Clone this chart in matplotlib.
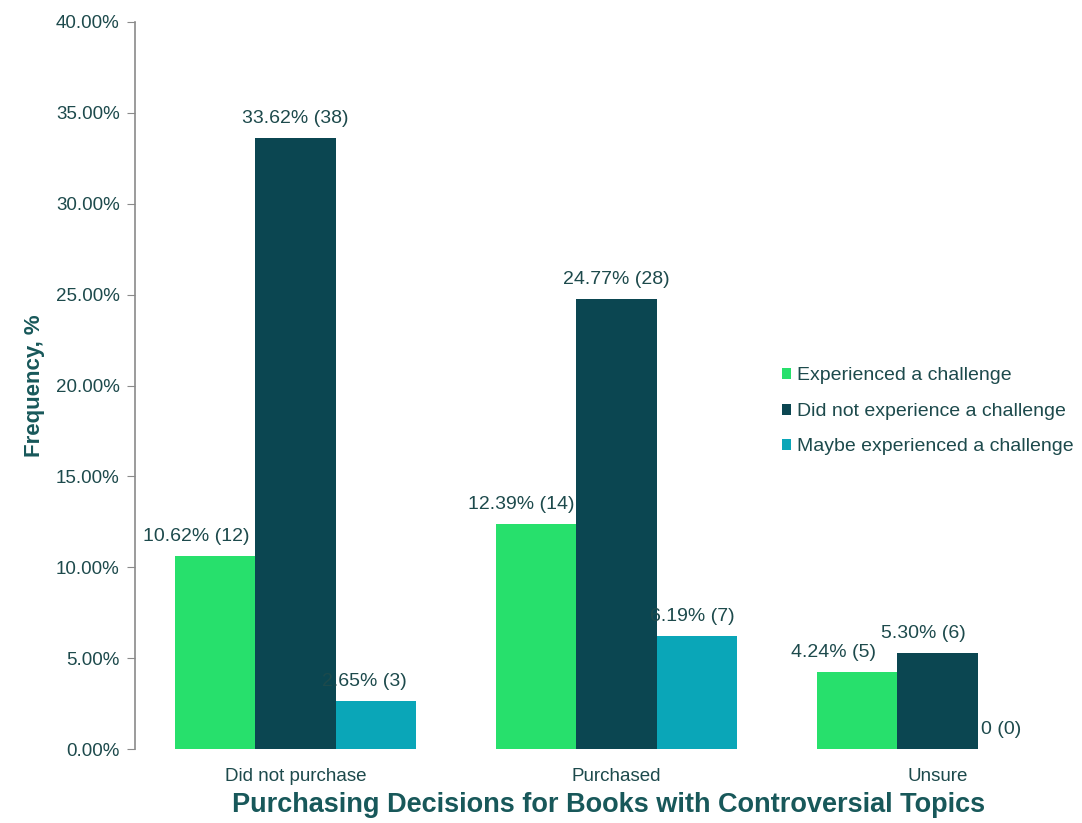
import numpy as np
import matplotlib.pyplot as plt
from matplotlib.ticker import FuncFormatter

plt.rcParams['font.family'] = ['Liberation Sans', 'DejaVu Sans']

decisions = ['Did not purchase', 'Purchased', 'Unsure']
series = ['Experienced a challenge', 'Did not experience a challenge',
          'Maybe experienced a challenge']
pct = [[10.62, 12.39, 4.24],
       [33.62, 24.77, 5.30],
       [2.65, 6.19, 0.0]]
counts = [[12, 14, 5],
          [38, 28, 6],
          [3, 7, 0]]
colors = ['#27e06c', '#0b4651', '#0aa6b8']
text_col = '#1d4a4c'

# small horizontal nudges (points) for the value labels
label_dx = [[-14, -11, -17],
            [0, 0, -10],
            [-8, -3, -12]]

fig = plt.figure(figsize=(10.82, 8.23), dpi=100)
ax = fig.add_axes([135 / 1082, 1 - 749 / 823, 1 - 135 / 1082, (749 - 22) / 823])

x = np.arange(len(decisions))
w = 0.25
for i, name in enumerate(series):
    pos = x + (i - 1) * w
    ax.bar(pos, pct[i], width=w, color=colors[i], label=name)
    for j in range(len(decisions)):
        v = pct[i][j]
        txt = '0 (0)' if v == 0 else '%.2f%% (%d)' % (v, counts[i][j])
        ax.annotate(txt, (pos[j], v), xytext=(label_dx[i][j], 8),
                    textcoords='offset points', ha='center', va='bottom',
                    fontsize=14, color=text_col)

ax.set_xlim(-0.5, 2.45)
ax.set_ylim(0, 40)
ax.set_yticks(np.arange(0, 41, 5))
ax.yaxis.set_major_formatter(FuncFormatter(lambda v, p: '%.2f%%' % v))
ax.set_xticks(x)
ax.set_xticklabels(decisions)
ax.tick_params(axis='x', length=0, labelsize=13.5, labelcolor=text_col, pad=14)
ax.tick_params(axis='y', length=6, color='#8a8a8a', labelsize=13.5, labelcolor=text_col, pad=5)

for s in ['top', 'right', 'bottom']:
    ax.spines[s].set_visible(False)
ax.spines['left'].set_color('#8a8a8a')
ax.spines['left'].set_linewidth(1.2)

ax.set_xlabel('Purchasing Decisions for Books with Controversial Topics',
              fontsize=19.5, fontweight='bold', color='#18585a', labelpad=5)
ax.set_ylabel('Frequency, %', fontsize=16, fontweight='bold', color='#18585a', labelpad=8)

leg = fig.legend(loc='upper left', bbox_to_anchor=(764 / 1082, 1 - 350 / 823),
                 frameon=False, fontsize=14, handlelength=0.5, handleheight=0.5,
                 handletextpad=0.3, labelspacing=0.95, labelcolor=text_col)

fig.savefig('out.png', dpi=100)
